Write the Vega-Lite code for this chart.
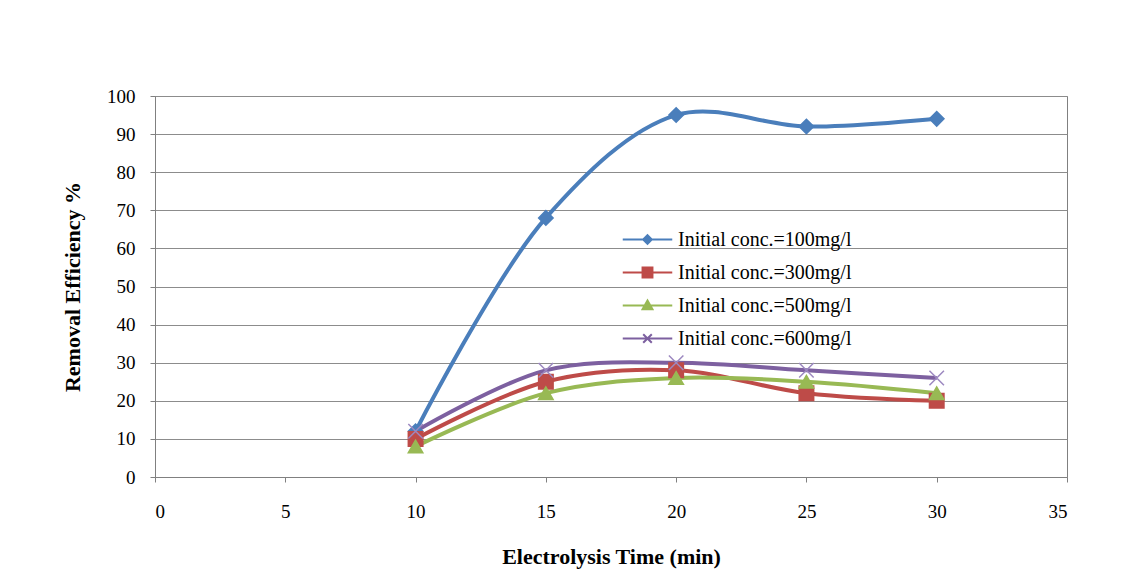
{
  "$schema": "https://vega.github.io/schema/vega-lite/v6.json",
  "width": 912,
  "height": 381,
  "autosize": "none",
  "padding": {"left": 155, "top": 96, "right": 60, "bottom": 102},
  "background": "white",
  "data": {
    "values": [
      {"series": "Initial conc.=100mg/l", "time": 10, "eff": 12},
      {"series": "Initial conc.=100mg/l", "time": 15, "eff": 68},
      {"series": "Initial conc.=100mg/l", "time": 20, "eff": 95},
      {"series": "Initial conc.=100mg/l", "time": 25, "eff": 92},
      {"series": "Initial conc.=100mg/l", "time": 30, "eff": 94},
      {"series": "Initial conc.=300mg/l", "time": 10, "eff": 10},
      {"series": "Initial conc.=300mg/l", "time": 15, "eff": 25},
      {"series": "Initial conc.=300mg/l", "time": 20, "eff": 28},
      {"series": "Initial conc.=300mg/l", "time": 25, "eff": 22},
      {"series": "Initial conc.=300mg/l", "time": 30, "eff": 20},
      {"series": "Initial conc.=500mg/l", "time": 10, "eff": 8},
      {"series": "Initial conc.=500mg/l", "time": 15, "eff": 22},
      {"series": "Initial conc.=500mg/l", "time": 20, "eff": 26},
      {"series": "Initial conc.=500mg/l", "time": 25, "eff": 25},
      {"series": "Initial conc.=500mg/l", "time": 30, "eff": 22},
      {"series": "Initial conc.=600mg/l", "time": 10, "eff": 12},
      {"series": "Initial conc.=600mg/l", "time": 15, "eff": 28},
      {"series": "Initial conc.=600mg/l", "time": 20, "eff": 30},
      {"series": "Initial conc.=600mg/l", "time": 25, "eff": 28},
      {"series": "Initial conc.=600mg/l", "time": 30, "eff": 26}
    ]
  },
  "config": {
    "view": {"stroke": "#808080", "strokeWidth": 1},
    "font": "Liberation Serif",
    "legend": {"labelFont": "Liberation Serif"},
    "axis": {
      "labelFont": "Liberation Serif",
      "labelFontSize": 19,
      "labelColor": "#000000",
      "titleFont": "Liberation Serif",
      "titleFontSize": 22,
      "titleFontWeight": "bold",
      "titleColor": "#000000",
      "gridColor": "#8c8c8c",
      "gridOpacity": 1,
      "domainColor": "#808080",
      "tickColor": "#808080",
      "tickSize": 5
    }
  },
  "encoding": {
    "x": {
      "field": "time",
      "type": "quantitative",
      "scale": {"domain": [0, 35], "nice": false},
      "axis": {
        "values": [0, 5, 10, 15, 20, 25, 30, 35],
        "grid": false,
        "title": "Electrolysis Time (min)",
        "labelPadding": 20,
        "titlePadding": 25
      }
    },
    "y": {
      "field": "eff",
      "type": "quantitative",
      "scale": {"domain": [0, 100], "nice": false},
      "axis": {
        "values": [0, 10, 20, 30, 40, 50, 60, 70, 80, 90, 100],
        "grid": true,
        "title": "Removal Efficiency %",
        "labelPadding": 15,
        "titlePadding": 22
      }
    },
    "color": {
      "field": "series",
      "type": "nominal",
      "scale": {"range": ["#4a7ebb", "#be4b48", "#98b954", "#7d60a0"]},
      "legend": {
        "title": null,
        "orient": "none",
        "legendX": 475,
        "legendY": 126,
        "labelFont": "Liberation Serif",
        "labelFontSize": 20,
        "labelLimit": 400,
        "labelColor": "#000000",
        "labelOffset": 13,
        "symbolSize": 1089,
        "symbolStrokeWidth": 2,
        "rowPadding": 5,
        "encode": {
          "symbols": {
            "update": {
              "shape": {"signal": "datum.value === 'Initial conc.=100mg/l' ? 'M-1.5,0H1.5M0,-0.26L0.26,0L0,0.26L-0.26,0Z' : datum.value === 'Initial conc.=300mg/l' ? 'M-1.5,0H1.5M-0.3,-0.3H0.3V0.3H-0.3Z' : datum.value === 'Initial conc.=500mg/l' ? 'M-1.5,0H1.5M0,-0.3L0.3,0.23L-0.3,0.23Z' : 'M-1.5,0H1.5M-0.26,-0.26L0.26,0.26M-0.26,0.26L0.26,-0.26'"},
              "fill": {"scale": "color", "field": "value"},
              "stroke": {"scale": "color", "field": "value"},
              "strokeWidth": {"value": 2},
              "opacity": {"value": 1}
            }
          }
        }
      }
    }
  },
  "layer": [
    {
      "mark": {"type": "line", "interpolate": "catmull-rom", "strokeWidth": 4}
    },
    {
      "mark": {"type": "point", "filled": true, "opacity": 1, "size": 210, "strokeWidth": 1.5},
      "encoding": {
        "shape": {
          "field": "series",
          "type": "nominal",
          "scale": {"range": ["diamond", "square", "triangle-up", "M-1,-1L1,1M-1,1L1,-1"]},
          "legend": null
        },
        "stroke": {
          "field": "series",
          "type": "nominal",
          "scale": {"range": ["#4a7ebb", "#be4b48", "#98b954", "#9c88c0"]},
          "legend": null
        }
      }
    }
  ]
}
